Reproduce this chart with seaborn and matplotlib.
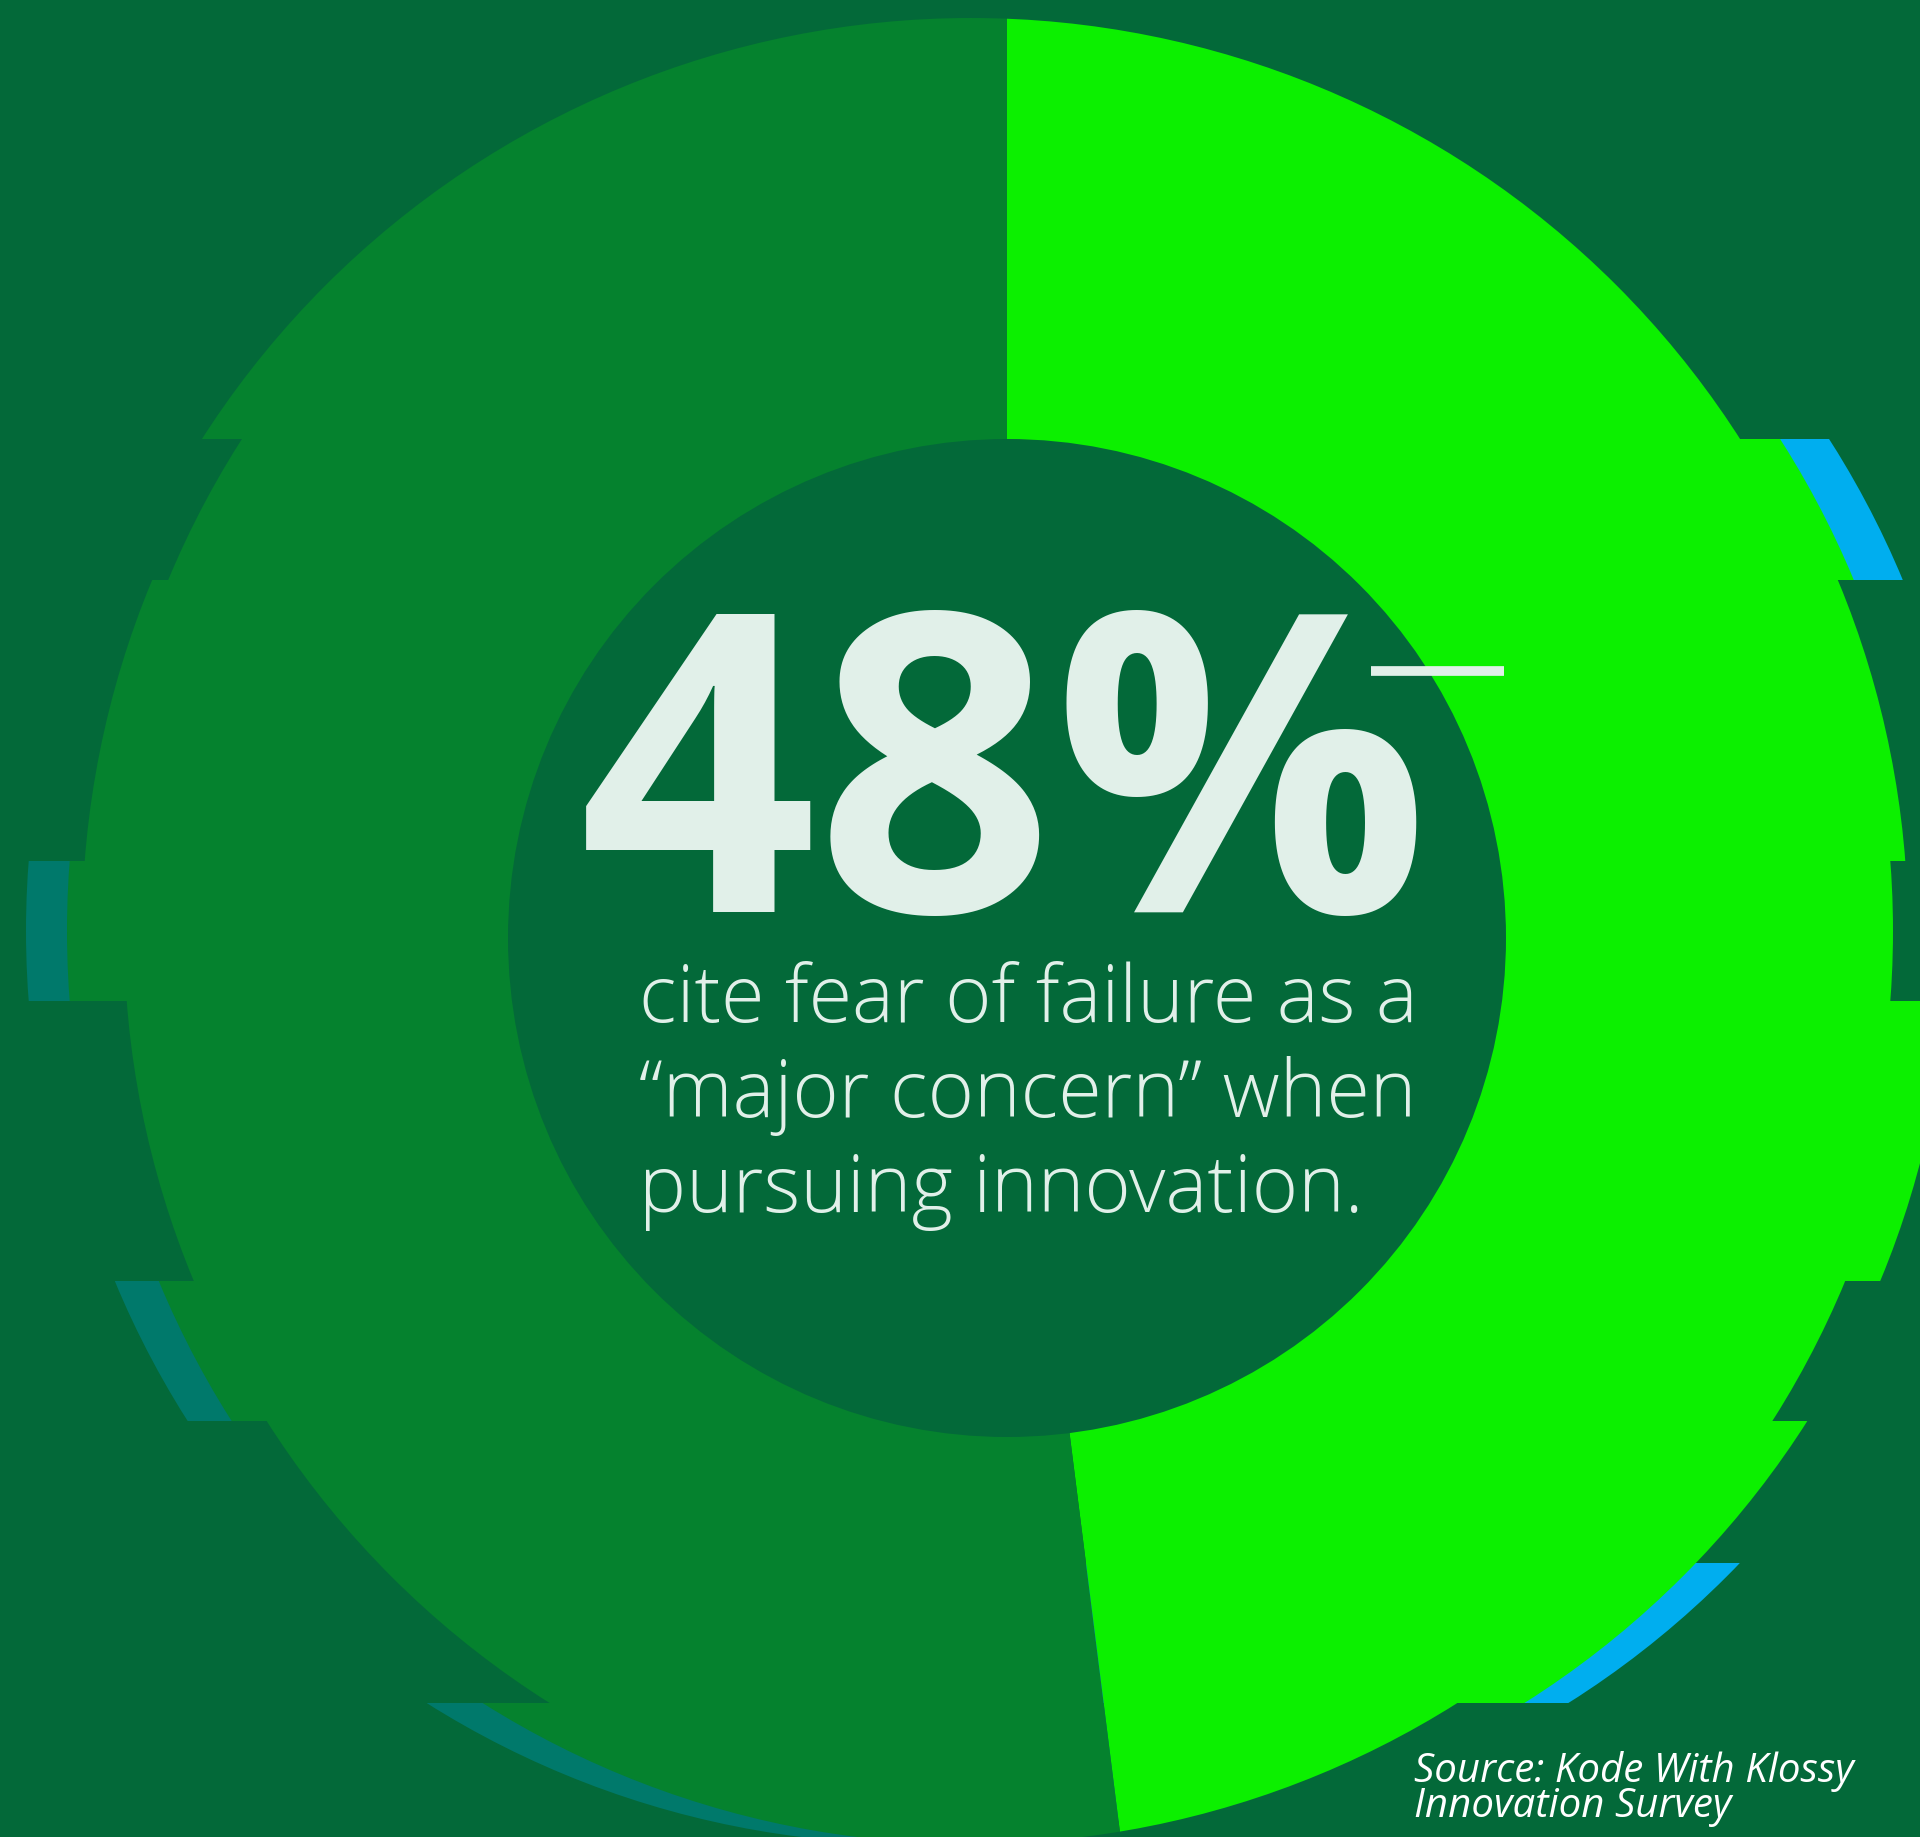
import matplotlib
matplotlib.use("Agg")
import matplotlib.pyplot as plt
from matplotlib.patches import Circle
from matplotlib.path import Path
from matplotlib.transforms import Bbox, TransformedBbox
import seaborn as sns

# ---- survey figures -------------------------------------------------------
shares = [48, 52]                      # % citing fear of failure as a major concern, rest
share_names = ["major concern", "other"]
headline = "48%"
body_lines = ["cite fear of failure as a",
              "\u201cmajor concern\u201d when",
              "pursuing innovation."]
source_lines = ["Source: Kode With Klossy", "Innovation Survey"]

# ---- canvas / palette -----------------------------------------------------
W, H = 1920, 1837
BG = "#036939"
BRIGHT = "#0CF000"
DARK = "#05822E"
BLUE = "#00AEEF"
TEAL = "#00796B"
INK = "#E1F0E9"

sns.set_theme(style="white", rc={"axes.facecolor": BG, "figure.facecolor": BG})
plt.rcParams["font.family"] = ["Open Sans", "DejaVu Sans"]

# ring geometry in pixel space (y measured from the top)
PIE_CX, PIE_CY = 1007, 938
RING_CY, R_OUT = 931, 913
HOLE_R = 499

# horizontal glitch strips: [top, bottom), shifted ring centre, optional echo
strip_top = [0, 439, 580, 861, 1001, 1281, 1421, 1563, 1703]
strip_bot = [439, 580, 861, 1001, 1281, 1421, 1563, 1703, H]
strip_cx = [971, 1011, 995, 980, 1037, 1002, 1037, 1037, 970]
echo_cx = [None, 1060, None, 939, None, 958, None, 1081, 914]
echo_col = [None, BLUE, None, TEAL, None, TEAL, None, BLUE, TEAL]

fig = plt.figure(figsize=(W / 100, H / 100), dpi=100)
ax = fig.add_axes([0, 0, 1, 1])
ax.set_facecolor(BG)

palette = sns.color_palette([BRIGHT, DARK])

for y0, y1, cx, ex, ec in zip(strip_top, strip_bot, strip_cx, echo_cx, echo_col):
    band = TransformedBbox(Bbox([[0, H - y1], [W, H - y0]]), ax.transData)
    if ex is not None:
        echo = Circle((ex, H - RING_CY), R_OUT, facecolor=ec, edgecolor="none", zorder=1)
        ax.add_patch(echo)
        echo.set_clip_box(band)
    wedges, _ = ax.pie(shares, labels=None, colors=palette, startangle=90,
                       counterclock=False, radius=R_OUT + 60,
                       center=(PIE_CX, H - PIE_CY),
                       wedgeprops=dict(linewidth=0, antialiased=True))
    outline = Path.circle((cx, H - RING_CY), R_OUT)
    for w in wedges:
        w.set_zorder(2)
        w.set_clip_on(True)          # pie wedges are created unclipped
        w.set_clip_box(band)
        w.set_clip_path(outline, ax.transData)

# centre of the donut
ax.add_patch(Circle((PIE_CX, H - PIE_CY), HOLE_R, facecolor=BG, edgecolor="none", zorder=3))

# headline figure and its rule
ax.text(579, H - 912, headline, color=INK, fontsize=300, fontweight="bold",
        ha="left", va="baseline", zorder=5)
ax.plot([1371, 1504], [H - 671, H - 671], color=INK, lw=7, solid_capstyle="butt", zorder=5)

for i, line in enumerate(body_lines):
    ax.text(639, H - (1022 + 95 * i), line, color=INK, fontsize=57, fontweight="light",
            ha="left", va="baseline", zorder=5)

for i, line in enumerate(source_lines):
    ax.text(1414, H - (1782 + 35 * i), line, color="white", fontsize=29, style="italic",
            ha="left", va="baseline", zorder=5)

ax.set_xlim(0, W)
ax.set_ylim(0, H)
ax.set_aspect("auto")
ax.axis("off")
fig.savefig("out.png", dpi=100, facecolor=BG)
